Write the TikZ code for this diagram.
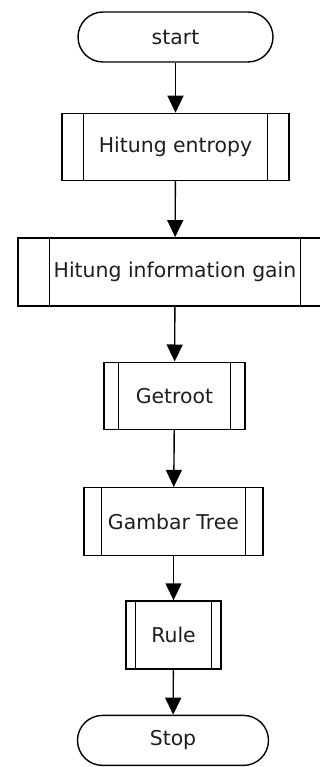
\documentclass[tikz,border=0pt]{standalone}
\usepackage{fontspec}
\setmainfont{DejaVu Sans}
\usepackage{tikz}
\usetikzlibrary{positioning}
\usetikzlibrary{arrows.meta}

\definecolor{txtgray}{RGB}{30,30,30}

\begin{document}
\begin{tikzpicture}[node distance={50pt},
    every node/.style = {font=\fontsize{20.4}{24}\selectfont, text=txtgray, inner sep=0pt},
    term/.style = {draw, line width=1.4pt, rounded corners=25pt, minimum height=50pt},
    sub/.style = {draw, line width=1.4pt, minimum height=68pt},
    flow/.style = {line width=1.4pt, -{Triangle[width=16pt,length=17pt]}}]
    \useasboundingbox (0,0) rectangle (320pt,-767pt);

    \node[term, minimum width=195pt] (start) at (175.5pt,-37pt) {start};
    \node[sub, minimum width=227pt, minimum height=67pt] (entropy) [below=50pt of start] {Hitung entropy};
    \node[sub, minimum width=314pt] (info) [below=56pt of entropy, xshift=-0.5pt] {Hitung information gain};
    \node[sub, minimum width=141pt, minimum height=67pt] (getroot) [below=55pt of info, xshift=-0.5pt] {Getroot};
    \node[sub, minimum width=179pt] (gambar) [below=57pt of getroot, xshift=-1pt] {Gambar Tree};
    \node[sub, minimum width=95pt] (rule) [below=44pt of gambar] {Rule};
    \node[term, minimum width=191pt] (stop) [below=45pt of rule, xshift=-0.5pt] {Stop};

    % garis tepi subproses
    \draw[line width=1.4pt] ([xshift=22pt]entropy.north west) -- ([xshift=22pt]entropy.south west);
    \draw[line width=1.4pt] ([xshift=-22pt]entropy.north east) -- ([xshift=-22pt]entropy.south east);
    \draw[line width=1.4pt] ([xshift=32pt]info.north west) -- ([xshift=32pt]info.south west);
    \draw[line width=1.4pt] ([xshift=-32pt]info.north east) -- ([xshift=-32pt]info.south east);
    \draw[line width=1.4pt] ([xshift=15pt]getroot.north west) -- ([xshift=15pt]getroot.south west);
    \draw[line width=1.4pt] ([xshift=-15pt]getroot.north east) -- ([xshift=-15pt]getroot.south east);
    \draw[line width=1.4pt] ([xshift=18pt]gambar.north west) -- ([xshift=18pt]gambar.south west);
    \draw[line width=1.4pt] ([xshift=-18pt]gambar.north east) -- ([xshift=-18pt]gambar.south east);
    \draw[line width=1.4pt] ([xshift=10pt]rule.north west) -- ([xshift=10pt]rule.south west);
    \draw[line width=1.4pt] ([xshift=-10pt]rule.north east) -- ([xshift=-10pt]rule.south east);

    \draw[flow] (start) -- (entropy);
    \draw[flow] (entropy) -- (info);
    \draw[flow] (info) -- (getroot);
    \draw[flow] (getroot) -- (gambar);
    \draw[flow] (gambar) -- (rule);
    \draw[flow] (rule) -- (stop);

\end{tikzpicture}
\end{document}
